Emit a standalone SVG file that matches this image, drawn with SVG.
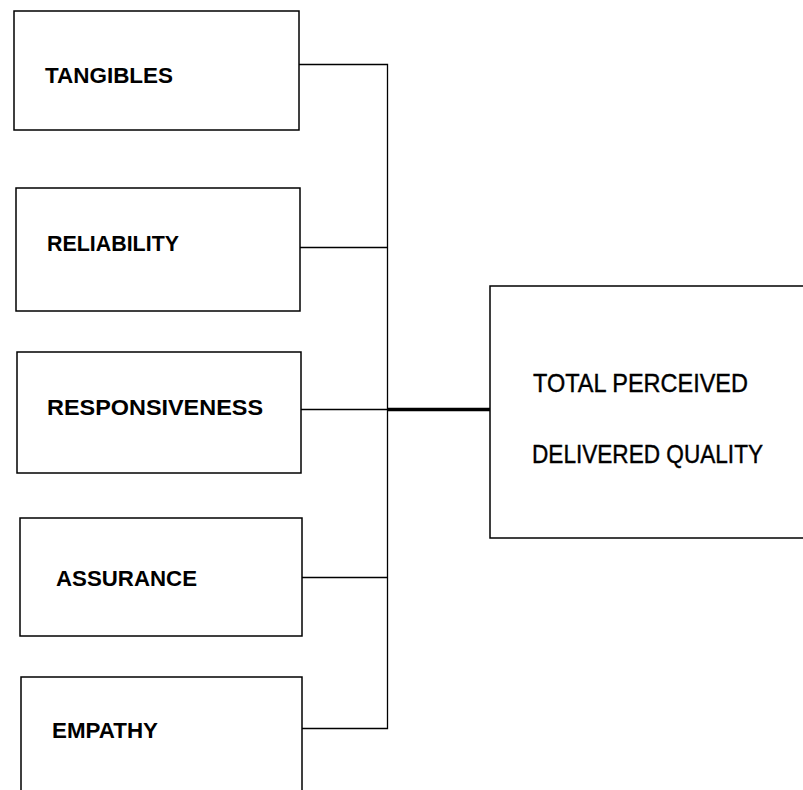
<svg xmlns="http://www.w3.org/2000/svg" width="803" height="790" viewBox="0 0 803 790">
  <style>
    .box { fill: #fff; stroke: #000; stroke-width: 1.5; }
    .lbl { font-family: "Liberation Sans", Arial, sans-serif; font-size: 22px; font-weight: bold; fill: #000; }
    .big { font-family: "Liberation Sans", Arial, sans-serif; font-size: 26px; fill: #000; stroke: #000; stroke-width: 0.4; }
    .wire { fill: none; stroke: #000; stroke-width: 1.3; }
    .trunk { fill: none; stroke: #000; stroke-width: 3.4; }
  </style>
  <rect width="803" height="790" fill="#fff"/>

  <g id="connectors">
    <polyline class="wire" points="299,64.5 387.5,64.5 387.5,728.5 302,728.5"/>
    <line class="wire" x1="300" y1="247.5" x2="387.5" y2="247.5"/>
    <line class="wire" x1="301" y1="409.5" x2="387.5" y2="409.5"/>
    <line class="wire" x1="302" y1="577.5" x2="387.5" y2="577.5"/>
    <line class="trunk" x1="387" y1="409.5" x2="492" y2="409.5"/>
  </g>

  <g id="tangibles">
    <rect class="box" x="14" y="11" width="285" height="119"/>
    <text class="lbl" x="45" y="83" textLength="128" lengthAdjust="spacingAndGlyphs">TANGIBLES</text>
  </g>

  <g id="reliability">
    <rect class="box" x="16" y="188" width="284" height="123"/>
    <text class="lbl" x="47" y="251" textLength="132" lengthAdjust="spacingAndGlyphs">RELIABILITY</text>
  </g>

  <g id="responsiveness">
    <rect class="box" x="17" y="352" width="284" height="121"/>
    <text class="lbl" x="47" y="415" textLength="216" lengthAdjust="spacingAndGlyphs">RESPONSIVENESS</text>
  </g>

  <g id="assurance">
    <rect class="box" x="20" y="518" width="282" height="118"/>
    <text class="lbl" x="56" y="586" textLength="141" lengthAdjust="spacingAndGlyphs">ASSURANCE</text>
  </g>

  <g id="empathy">
    <rect class="box" x="21" y="677" width="281" height="130"/>
    <text class="lbl" x="52" y="738" textLength="106" lengthAdjust="spacingAndGlyphs">EMPATHY</text>
  </g>

  <g id="total-quality">
    <rect class="box" x="490" y="286" width="340" height="252"/>
    <text class="big" x="533" y="392" textLength="215" lengthAdjust="spacingAndGlyphs">TOTAL PERCEIVED</text>
    <text class="big" x="532" y="463" textLength="231" lengthAdjust="spacingAndGlyphs">DELIVERED QUALITY</text>
  </g>
</svg>
